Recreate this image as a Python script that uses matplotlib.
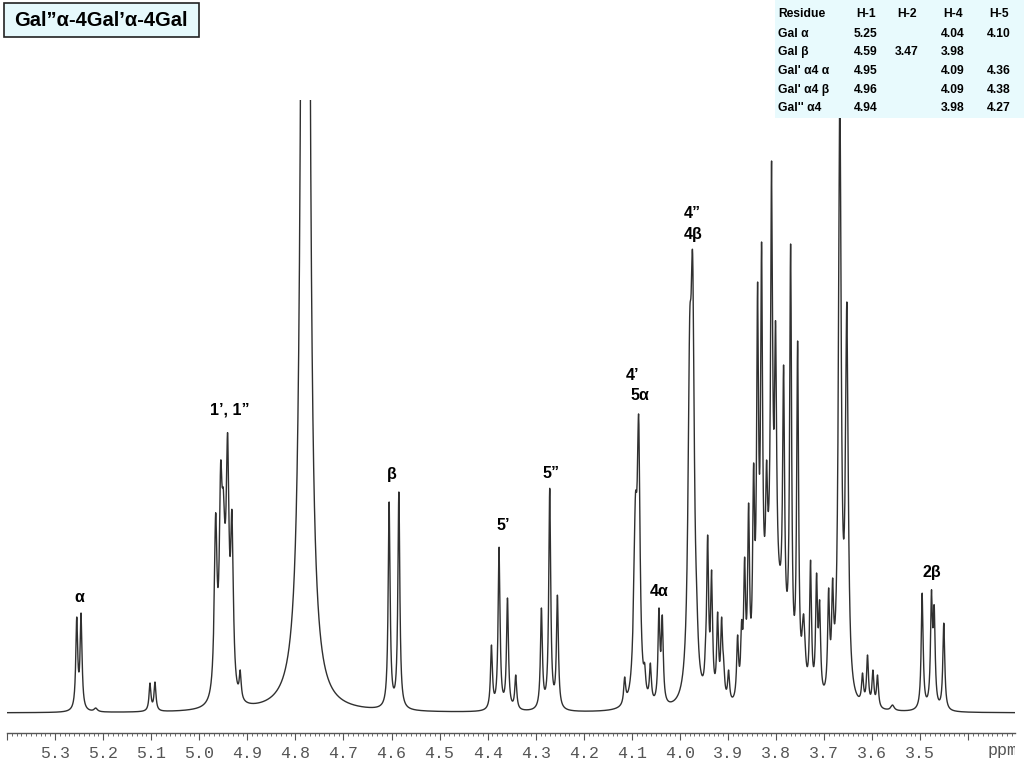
"""
Gal''α-4Gal'α-4Gal の 1H NMR スペクトルを再現するスクリプト。
"""

import numpy as np
import matplotlib
matplotlib.use("Agg")
import matplotlib.pyplot as plt
from matplotlib.patches import Rectangle
from matplotlib.ticker import MultipleLocator, FuncFormatter

plt.rcParams["font.family"] = ["Liberation Mono", "DejaVu Sans Mono"]
SANS = ["Liberation Sans", "DejaVu Sans"]

# --- データ ---
# 鋭いピーク: 化学シフト (ppm), 頂点の高さ, 半値半幅 (ppm)
N, M, B = 0.0024, 0.0034, 0.0042
PEAK_PPM = [
    5.2549, 5.2459, 5.2154,
    5.1025, 5.0921,
    4.9659, 4.9555, 4.9501, 4.9410, 4.9320, 4.9148,
    4.6050, 4.5848,
    4.3921, 4.3763, 4.3588, 4.3416,
    4.2882, 4.2709, 4.2549,
    4.1150, 4.0927, 4.0859, 4.0734, 4.0615,
    4.0437, 4.0367,
    3.9798, 3.9736, 3.9653,
    3.9466, 3.9424, 3.9341, 3.9216, 3.9133, 3.9091, 3.8988,
    3.8801, 3.8717, 3.8655, 3.8572, 3.8468, 3.8385, 3.8302, 3.8198,
    3.8094, 3.8011, 3.7844, 3.7698, 3.7552, 3.7427,
    3.7283, 3.7158, 3.7094, 3.6907, 3.6824,
    3.6674, 3.6528,
    3.6202, 3.6098, 3.5985, 3.5890, 3.5578,
    3.4961, 3.4767, 3.4711, 3.4511,
]
PEAK_TOP = [
    96, 100, 5,
    30, 31,
    200, 251, 225, 280, 203, 43,
    211, 221,
    68, 166, 115, 38,
    105, 225, 118,
    36, 218, 298, 50, 50,
    105, 98,
    396, 459, 127,
    76, 178, 143, 101, 96, 55, 43,
    78, 93, 156, 210, 250, 431, 471, 253,
    552, 392, 348, 469, 372, 99,
    153, 140, 113, 125, 135,
    620, 411,
    40, 58, 43, 38, 8,
    120, 123, 108, 90,
]
PEAK_HW = [
    N, N, B,
    N, N,
    M, M, M, M, M, N,
    N, N,
    N, N, N, N,
    N, N, N,
    N, B, M, N, N,
    N, N,
    B, B, M,
    N, N, N, N, N, N, N,
    N, N, N, N, N, N, N, N,
    N, N, N, N, N, B,
    N, N, N, N, N,
    M, M,
    N, N, N, N, B,
    N, N, N, N,
]

# 水のピーク (上端は切れている)
WATER_PPM = 4.7792
WATER_HEIGHT = 5000.0
WATER_HW = 0.0039

# 多重線の重なりによる幅広い盛り上がり
HUMP_PPM = [4.948, 3.805]
HUMP_HEIGHT = [60, 110]
HUMP_SIGMA = [0.006, 0.02]

# ラベル: テキスト, ppm, 高さ
LABELS = [
    ("α", 5.2504, 116),
    ("1’, 1”", 4.9362, 303),
    ("β", 4.5994, 238),
    ("5’", 4.3686, 188),
    ("5”", 4.2688, 239),
    ("4’", 4.0983, 338),
    ("5α", 4.0838, 318),
    ("4α", 4.0422, 121),
    ("4”", 3.9736, 500),
    ("4β", 3.9736, 478),
    ("2β", 3.4767, 141),
]

TITLE = "Gal”α-4Gal’α-4Gal"

TABLE_HEADER = ["Residue", "H-1", "H-2", "H-4", "H-5"]
TABLE_ROWS = [
    ["Gal α", "5.25", "", "4.04", "4.10"],
    ["Gal β", "4.59", "3.47", "3.98", ""],
    ["Gal' α4 α", "4.95", "", "4.09", "4.36"],
    ["Gal' α4 β", "4.96", "", "4.09", "4.38"],
    ["Gal'' α4", "4.94", "", "3.98", "4.27"],
]


def lorentz(x, c, w):
    return w ** 2 / ((x - c) ** 2 + w ** 2)


def background(x):
    y = WATER_HEIGHT * lorentz(x, WATER_PPM, WATER_HW)
    for c, h, s in zip(HUMP_PPM, HUMP_HEIGHT, HUMP_SIGMA):
        y = y + h * np.exp(-0.5 * ((x - c) / s) ** 2)
    return y


# 頂点の高さが読み取り値に一致するように各ピークの強度を求める
pos = np.array(PEAK_PPM)
top = np.array(PEAK_TOP, dtype=float)
hw = np.array(PEAK_HW)
A = lorentz(pos[:, None], pos[None, :], hw[None, :])
rhs = top - background(pos)
keep = np.ones(len(pos), dtype=bool)
amp = np.zeros(len(pos))
for _ in range(30):
    amp = np.zeros(len(pos))
    amp[keep] = np.linalg.solve(A[np.ix_(keep, keep)], rhs[keep])
    if (amp >= 0).all():
        break
    keep &= amp >= 0

ppm = np.arange(3.30, 5.40, 0.0002)
spec = background(ppm) + (amp[None, :] * lorentz(ppm[:, None], pos[None, :], hw[None, :])).sum(axis=1)

# --- 描画 ---
W, H = 1024, 768
fig = plt.figure(figsize=(W / 100, H / 100), dpi=100)
ax = fig.add_axes([7 / W, 35 / H, 1008 / W, 633 / H])
ax.plot(ppm, spec, color="#303030", lw=1.0)
ax.set_xlim(5.40, 3.303)
ax.set_ylim(-20, 613)

for s in ("top", "left", "right"):
    ax.spines[s].set_visible(False)
ax.spines["bottom"].set_color("#555555")
ax.spines["bottom"].set_linewidth(1.0)
ax.set_yticks([])
ax.xaxis.set_major_locator(MultipleLocator(0.1))
ax.xaxis.set_minor_locator(MultipleLocator(0.01))
ax.xaxis.set_major_formatter(FuncFormatter(lambda v, _: f"{v:.1f}" if 3.45 < v < 5.35 else ""))
ax.tick_params(axis="x", which="major", direction="out", length=5, width=0.8,
               color="#555555", labelcolor="#555555", labelsize=12, pad=4)
ax.tick_params(axis="x", which="minor", direction="out", length=2.5, width=0.6, color="#555555")

for text, x, y in LABELS:
    ax.text(x, y, text, ha="center", va="center", fontsize=11.5,
            fontweight="bold", family=SANS)

ppm_lbl = fig.text(1003 / W, 1 - 750 / H, "ppm", ha="center", va="center",
                   fontsize=12, color="#555555")
ppm_lbl.set_clip_path(Rectangle((0, 0), 1015 / W, 1, transform=fig.transFigure))


def fx(x):
    return x / W


def fy(y):
    return 1 - y / H


# タイトルの枠
fig.add_artist(Rectangle((fx(4), fy(37)), (199 - 4) / W, 34 / H, transform=fig.transFigure,
                         facecolor="#e6f9fc", edgecolor="#222222", lw=1.2, zorder=5))
fig.text(fx(101), fy(20), TITLE, ha="center", va="center", fontsize=14.5,
         fontweight="bold", family=SANS, zorder=6)

# 化学シフトの表
fig.add_artist(Rectangle((fx(775), fy(118)), (W - 775) / W, 118 / H, transform=fig.transFigure,
                         facecolor="#e8fafd", edgecolor="none", zorder=5))
col_x = [778, 866, 907, 953, 999]
row_y = [14, 34, 52, 71, 90, 108]
for r, row in enumerate([TABLE_HEADER] + TABLE_ROWS):
    for c, cell in enumerate(row):
        fig.text(fx(col_x[c]), fy(row_y[r]), cell, ha="left" if c == 0 else "center",
                 va="center", fontsize=8.7, fontweight="bold", family=SANS, zorder=6)

fig.savefig("out.png", dpi=100)
